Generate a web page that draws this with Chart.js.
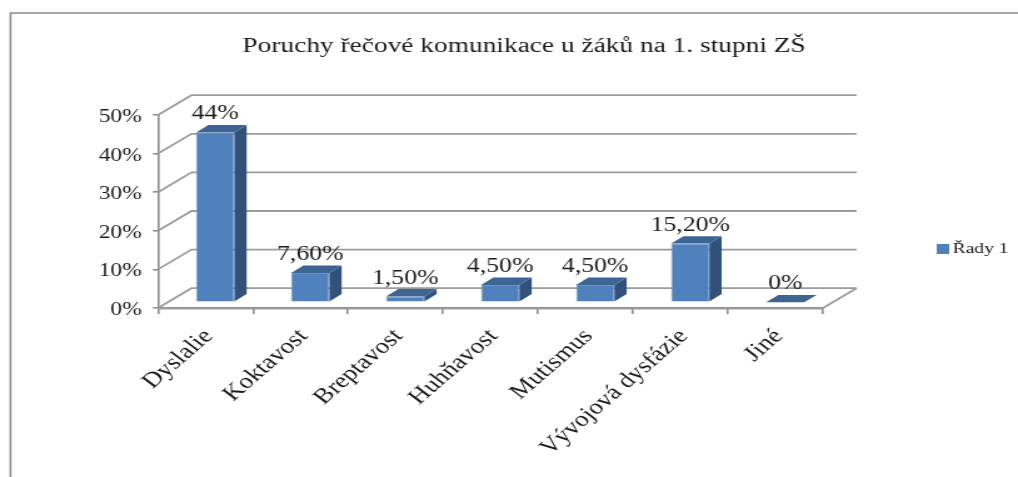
<!DOCTYPE html>
<html lang="cs">
<head>
<meta charset="utf-8">
<title>Poruchy řečové komunikace</title>
<script src="https://cdn.jsdelivr.net/npm/chart.js@4"></script>
<style>
html,body{margin:0;padding:0;background:#fff;overflow:hidden}
canvas{display:block}
</style>
</head>
<body>
<canvas id="c" width="814" height="477" style="width:1018px;height:477px"></canvas>
<script>
const categories = ["Dyslalie","Koktavost","Breptavost","Huhňavost","Mutismus","Vývojová dysfázie","Jiné"];
const values = [44,7.6,1.5,4.5,4.5,15.2,0];
const valueLabels = ["44%","7,60%","1,50%","4,50%","4,50%","15,20%","0%"];
const seriesName = "Řady 1";
const chartTitle = "Poruchy řečové komunikace u žáků na 1. stupni ZŠ";

const FONT = "'Liberation Serif','Times New Roman',serif";
const K = 1018/814;
const GRID = "#9c9c9c", AXIS = "#8c8c8c", BLUE = "#4f81bd";
const wall = {dx:33.5/K, dy:19.8};       // back wall offset
const barOff = {dx:9.7/K, dy:5.7};       // bars stand a little behind the front edge
const barDepth = {dx:12.3/K, dy:7.4};    // depth of each bar

const swatch = document.createElement("canvas");
swatch.width = 10; swatch.height = 10;
const sw = swatch.getContext("2d"); sw.fillStyle = BLUE; sw.fillRect(0,0,10,10);

const pseudo3d = {
  id:"pseudo3d",
  afterLayout(chart){
    const l = chart.legend;
    const h = l.bottom-l.top;
    l.left = 745; l.right = 814; l.top = 233; l.bottom = l.top+h;
    const t = chart.titleBlock;
    t.left += 90; t.right += 90;
  },
  beforeDraw(chart){
    const c = chart.ctx;
    chart.scales.y.getLabelItems().forEach(i=>{ if(!i.shifted){i.options.translation[1]+=2;i.shifted=true;} });
    chart.scales.x.getLabelItems().forEach(i=>{ if(!i.shifted){i.options.translation[0]+=2.5;i.shifted=true;} });
    c.save();
    c.strokeStyle = "#8a8a8a"; c.lineWidth = 1.6;
    c.beginPath(); c.moveTo(chart.width,13); c.lineTo(8.4,13); c.lineTo(8.4,477); c.stroke();
    c.restore();
  },
  beforeDatasetsDraw(chart){
    const c = chart.ctx, y = chart.scales.y, a = chart.chartArea;
    c.save();
    c.strokeStyle = GRID; c.lineWidth = 1.8;
    y.ticks.forEach(t=>{
      const py = y.getPixelForValue(t.value);
      c.beginPath();
      c.moveTo(a.left,py); c.lineTo(a.left+wall.dx,py-wall.dy); c.lineTo(a.right+wall.dx,py-wall.dy);
      c.stroke();
    });
    const py0 = y.getPixelForValue(0);
    c.beginPath(); c.moveTo(a.right,py0); c.lineTo(a.right+wall.dx,py0-wall.dy); c.stroke();
    c.beginPath(); c.moveTo(a.left,py0+0.5); c.lineTo(a.right,py0+0.5); c.stroke();
    chart.getDatasetMeta(0).data.forEach(b=>{
      const L=b.x-b.width/2+barOff.dx, R=b.x+b.width/2+barOff.dx, T=b.y-barOff.dy, B=b.base-barOff.dy;
      if (B-T>0.5){
        c.fillStyle="#31517b";
        c.beginPath(); c.moveTo(R,T); c.lineTo(R+barDepth.dx,T-barDepth.dy); c.lineTo(R+barDepth.dx,B-barDepth.dy); c.lineTo(R,B); c.closePath(); c.fill();
      }
      c.fillStyle="#3c6494";
      c.beginPath(); c.moveTo(L,T); c.lineTo(L+barDepth.dx,T-barDepth.dy); c.lineTo(R+barDepth.dx,T-barDepth.dy); c.lineTo(R,T); c.closePath(); c.fill();
    });
    c.restore();
    c.save();
    c.translate(barOff.dx,-barOff.dy);
  },
  afterDatasetsDraw(chart){
    const c = chart.ctx;
    c.restore();
    c.save();
    c.fillStyle="#1a1a1a"; c.font="20.6px "+FONT; c.textAlign="center"; c.textBaseline="alphabetic";
    chart.getDatasetMeta(0).data.forEach((b,i)=>{
      c.fillText(valueLabels[i], b.x+barOff.dx, b.y-barOff.dy-13);
    });
    c.restore();
  }
};

new Chart(document.getElementById("c"),{
  type:"bar",
  data:{labels:categories,datasets:[{label:seriesName,data:values,backgroundColor:BLUE,borderColor:"#6a96cc",borderWidth:1,
    barPercentage:0.403,categoryPercentage:1}]},
  plugins:[pseudo3d],
  options:{
    responsive:false,animation:false,devicePixelRatio:1,
    layout:{padding:{left:0,right:814-823/K,top:0,bottom:0}},
    plugins:{
      tooltip:{enabled:false},
      title:{display:true,text:chartTitle,color:"#1a1a1a",font:{family:FONT,size:21.9,weight:"normal"},
        padding:{top:33.5,bottom:55.2},
      },
      legend:{display:true,position:"chartArea",align:"start",
        labels:{color:"#1a1a1a",font:{family:FONT,size:15.6},padding:8,usePointStyle:true,pointStyle:swatch,boxWidth:1,boxHeight:10}}
    },
    scales:{
      x:{
        afterFit(s){s.height=477-308;},
        grid:{drawOnChartArea:false,color:AXIS,tickLength:6,lineWidth:1.6},
        border:{color:AXIS,width:1.6},
        ticks:{color:"#1a1a1a",font:{family:FONT,size:21.6},minRotation:47,maxRotation:47,padding:10,autoSkip:false}
      },
      y:{
        min:0,max:50,
        afterFit(s){s.width=158/K;},
        grid:{drawOnChartArea:false,color:AXIS,tickLength:4,lineWidth:1.6},
        border:{color:AXIS,width:1.6},
        ticks:{color:"#1a1a1a",font:{family:FONT,size:18.8},stepSize:10,padding:9,callback:v=>v+"%"}
      }
    }
  }
});
</script>
</body>
</html>
